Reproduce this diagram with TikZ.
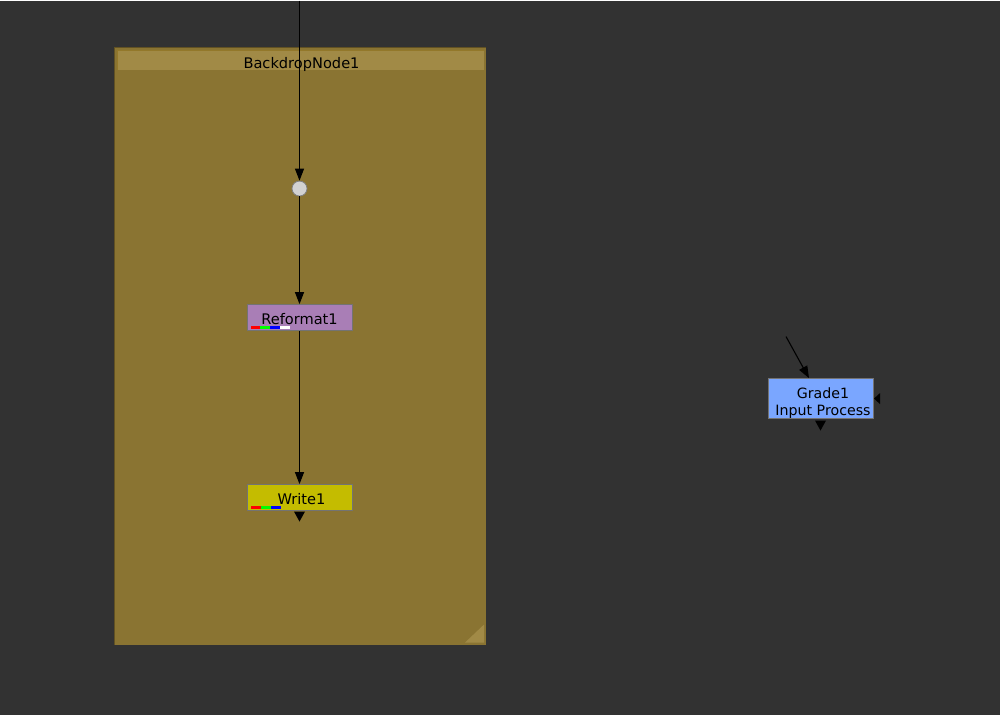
\documentclass[tikz,border=0pt]{standalone}
\usepackage{fontspec}
\setmainfont{DejaVu Sans}
\definecolor{canvascol}{HTML}{323232}
\definecolor{backdropcol}{HTML}{8A7432}
\definecolor{titlecol}{HTML}{A18A46}
\definecolor{reformatcol}{HTML}{A97EB6}
\definecolor{writecol}{HTML}{C4BC00}
\definecolor{gradecol}{HTML}{7AA6FF}
\usetikzlibrary{arrows.meta, positioning}

\newcommand{\nodetext}[2][0pt]{\raisebox{-3.5pt}[0pt][0pt]{\hspace{#1}#2}}

\begin{document}
\begin{tikzpicture}[
  x=0.5pt, y=-0.5pt,
  every node/.style={font=\fontsize{7.3}{8.5}\selectfont},
  nukenode/.style={
    rectangle, draw=black!55, line width=0.4pt,
    minimum width=52.5pt, minimum height=13pt,
    inner sep=0pt, text=black
  },
  dotnode/.style={circle, draw=black!50, fill=gray!35, minimum size=7.5pt, inner sep=0pt},
  wire/.style={-{Triangle[length=6pt, width=4.5pt]}, line width=0.55pt, black},
  pip/.style={fill=black}
]

%% ─── Canvas & backdrop ───────────────────────────────────────────────────────
\fill[canvascol] (0,0) rectangle (1000,714);
\fill[backdropcol] (114,47) rectangle (486,644);
\draw[backdropcol!70!black, line width=0.5pt] (114,644) -- (114,47) -- (486,47);
\fill[titlecol] (117,50) rectangle (484,69);
\draw[titlecol!115!white, line width=0.4pt] (117,69) -- (117,50) -- (484,50);
\node (bdtitle) at (301.5,61) {\nodetext{BackdropNode1}};
\fill[titlecol] (465,642) -- (484,624) -- (484,642) -- cycle;

%% ─── Main chain ──────────────────────────────────────────────────────────────
\coordinate (src) at (299.5,0);
\node[dotnode] (dot) at (299.5,188) {};
\node[nukenode, fill=reformatcol] (reformat) at (299.5,317) {\nodetext{Reformat1}};
\node[nukenode, fill=writecol] (write) at (299.5,497) {\nodetext[2pt]{Write1}};

\draw[wire] (src) -- (dot);
\draw[wire] (dot) -- (reformat);
\draw[wire] (reformat) -- (write);

% channel swatches
\fill[red]   (251,325) rectangle (260,328);
\fill[green] (260,325) rectangle (270,328);
\fill[blue]  (270,325) rectangle (280,328);
\fill[white] (280,325) rectangle (290,328);
\fill[red]   (251,505) rectangle (261,508);
\fill[green] (261,505) rectangle (271,508);
\fill[blue]  (271,505) rectangle (281,508);

% output pip
\fill[pip] (294,511) -- (305,511) -- (299.5,521) -- cycle;

%% ─── Grade ───────────────────────────────────────────────────────────────────
\coordinate (gradein) at (786,336);
\node[nukenode, fill=gradecol, minimum height=20pt] (grade) at (821,398)
      {\hspace{2pt}\raisebox{0pt}[0pt][0pt]{\fontsize{7.1}{8.5}\selectfont\begin{tabular}[t]{@{}c@{}}Grade1\\Input Process\end{tabular}}};
\draw[wire] (gradein) -- (grade.north -| 809,0);

\fill[pip] (880,392.5) -- (880,403.5) -- (874,398) -- cycle;
\fill[pip] (815,420) -- (826,420) -- (820.5,430) -- cycle;

\end{tikzpicture}
\end{document}
